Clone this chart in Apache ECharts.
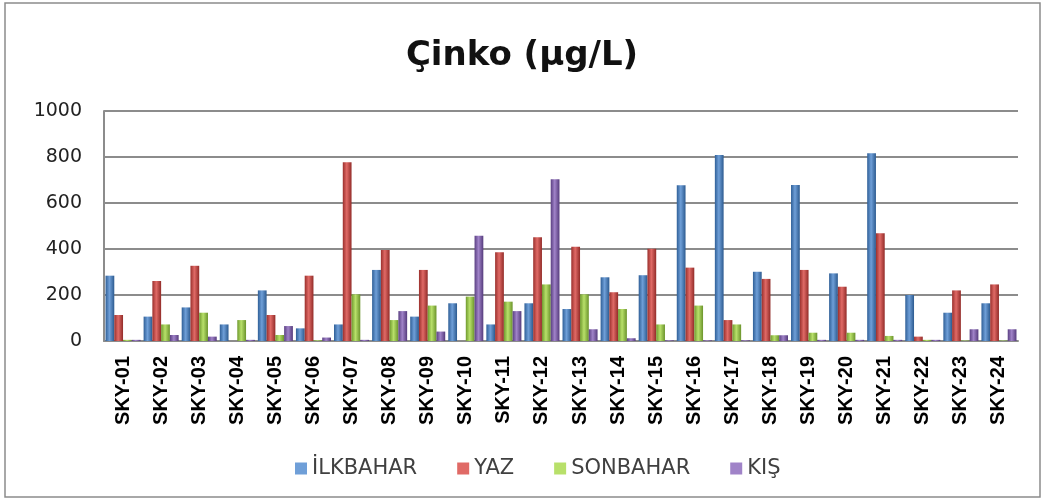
<!DOCTYPE html>
<html>
<head>
<meta charset="utf-8">
<script src="https://cdn.jsdelivr.net/npm/echarts@6/dist/echarts.min.js"></script>
<style>
  html, body { margin: 0; padding: 0; background: #fff; }
  #main { width: 1044px; height: 501px; }
</style>
</head>
<body>
<div id="main"></div>
<script>
var categories = ['SKY-01', 'SKY-02', 'SKY-03', 'SKY-04', 'SKY-05', 'SKY-06', 'SKY-07', 'SKY-08',
  'SKY-09', 'SKY-10', 'SKY-11', 'SKY-12', 'SKY-13', 'SKY-14', 'SKY-15', 'SKY-16',
  'SKY-17', 'SKY-18', 'SKY-19', 'SKY-20', 'SKY-21', 'SKY-22', 'SKY-23', 'SKY-24'];
var ilkbahar = [284, 106, 146, 72, 220, 55, 72, 309, 106, 164, 72, 164, 139, 277, 286, 677, 809, 301, 678, 294, 816, 200, 123, 164];
var yaz = [113, 261, 327, 0, 113, 284, 777, 396, 309, 0, 386, 451, 410, 212, 401, 319, 91, 270, 309, 236, 468, 19, 220, 246];
var sonbahar = [5, 72, 123, 91, 26, 3, 203, 91, 154, 193, 171, 246, 203, 139, 72, 154, 72, 25, 36, 36, 22, 5, 2, 2];
var kis = [5, 26, 19, 5, 65, 15, 5, 130, 41, 458, 130, 703, 51, 12, 3, 3, 3, 25, 5, 5, 5, 5, 51, 51];
var seriesNames = ['İLKBAHAR', 'YAZ', 'SONBAHAR', 'KIŞ'];
var yTicks = [0, 200, 400, 600, 800, 1000];

// office-style colours, shaded so the bars look rounded
var palette = [
  ['#2f5f97', '#6f9fd8', '#2c5a8f'],
  ['#9a2f2c', '#e06a66', '#922b28'],
  ['#6f9a2e', '#b8e06a', '#6a932b'],
  ['#5a3f82', '#a083c8', '#553b7c']
];

function shade(c) {
  return new echarts.graphic.LinearGradient(0, 0, 1, 0, [
    {offset: 0, color: c[0]},
    {offset: 0.45, color: c[1]},
    {offset: 1, color: c[2]}
  ]);
}

var chart = echarts.init(document.getElementById('main'));
var allData = [ilkbahar, yaz, sonbahar, kis];

chart.setOption({
  animation: false,
  title: {
    text: 'Çinko (µg/L)',
    left: 'center',
    top: 34,
    textStyle: {fontFamily: 'DejaVu Sans', fontWeight: 'bold', fontSize: 34, color: '#111'}
  },
  graphic: [{
    type: 'rect',
    shape: {x: 5, y: 3, width: 1035, height: 494},
    style: {fill: 'none', stroke: '#8c8c8c', lineWidth: 1.5},
    silent: true
  }],
  legend: {
    data: seriesNames.map(function (n, i) {
      return {name: n, itemStyle: {color: palette[i][1]}};
    }),
    top: 453,
    left: 290,
    itemWidth: 12,
    itemHeight: 12,
    itemGap: 40,
    icon: 'rect',
    textStyle: {fontFamily: 'DejaVu Sans', fontSize: 21, color: '#404040'}
  },
  grid: {left: 104, right: 26, top: 111, bottom: 160},
  xAxis: {
    type: 'category',
    data: categories,
    axisLine: {lineStyle: {color: '#8c8c8c', width: 2}},
    axisTick: {show: false},
    axisLabel: {
      rotate: 90,
      interval: 0,
      margin: 15,
      fontFamily: 'Liberation Sans',
      fontWeight: 'bold',
      fontSize: 20,
      color: '#000'
    }
  },
  yAxis: {
    type: 'value',
    min: yTicks[0],
    max: yTicks[yTicks.length - 1],
    interval: 200,
    axisLine: {show: true, lineStyle: {color: '#8c8c8c', width: 2}},
    axisTick: {show: false},
    splitLine: {lineStyle: {color: '#8c8c8c', width: 2}},
    axisLabel: {
      fontFamily: 'DejaVu Sans',
      fontSize: 19,
      color: '#222',
      margin: 22,
      formatter: function (v) { return String(v); }
    }
  },
  series: allData.map(function (d, i) {
    return {
      name: seriesNames[i],
      type: 'bar',
      data: d,
      barGap: '0%',
      barCategoryGap: '8%',
      itemStyle: {color: shade(palette[i])}
    };
  })
});
</script>
</body>
</html>
